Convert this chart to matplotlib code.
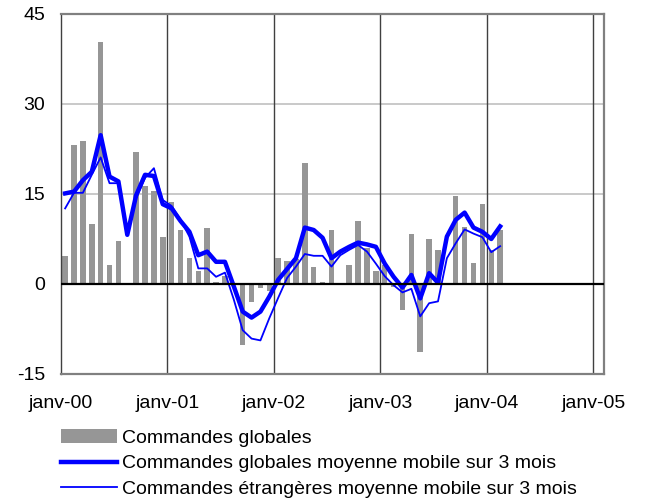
import numpy as np
import matplotlib
matplotlib.use("Agg")
import matplotlib.pyplot as plt
from matplotlib.patches import Patch
from matplotlib.lines import Line2D

plt.rcParams['font.family'] = ['Liberation Sans', 'DejaVu Sans']

# Monthly data, Jan 2000 .. Feb 2004 (August bars not shown)
months = np.arange(50)
commandes_globales = [4.7, 23.2, 23.8, 10.0, 40.3, 3.2, 7.2, np.nan, 22.0, 16.3, 15.5, 7.8,
                      13.7, 9.0, 4.3, 2.2, 9.3, 0.3, 1.3, np.nan, -10.2, -3.0, -0.7, -1.2,
                      4.3, 3.8, 4.2, 20.2, 2.8, 0.3, 9.0, np.nan, 3.2, 10.5, 6.0, 2.2,
                      3.2, -0.5, -4.3, 8.3, -11.3, 7.5, 5.7, np.nan, 14.6, 9.5, 3.5, 13.3,
                      5.7, 9.0]
globales_mm3 = [15.1, 15.4, 17.3, 18.7, 24.8, 17.9, 17.1, 8.2, 14.8, 18.2, 18.0, 13.3,
                12.6, 10.5, 8.7, 4.8, 5.4, 3.7, 3.7, -0.4, -4.6, -5.6, -4.6, -2.1,
                0.7, 2.5, 4.3, 9.4, 9.0, 7.7, 4.3, 5.4, 6.2, 6.9, 6.6, 6.2,
                3.4, 1.2, -0.6, 1.5, -2.4, 1.8, 0.2, 7.9, 10.7, 11.9, 9.4, 8.7,
                7.5, 9.6]
etrangeres_mm3 = [12.6, 15.2, 15.2, 18.2, 21.1, 16.8, 16.8, 8.5, 14.3, 17.7, 19.3, 14.0,
                  13.0, 10.7, 7.9, 2.6, 2.6, 1.2, 1.9, -2.6, -7.7, -9.1, -9.4, -5.7,
                  -2.3, 1.0, 2.9, 5.0, 4.7, 4.7, 2.9, 4.8, 5.7, 6.5, 5.4, 3.4,
                  1.3, -0.2, -1.4, -0.8, -5.4, -3.2, -2.9, 4.3, 6.8, 9.1, 8.4, 7.8,
                  5.3, 6.3]
tick_labels = ['janv-00', 'janv-01', 'janv-02', 'janv-03', 'janv-04', 'janv-05']
yticks = [-15, 0, 15, 30, 45]

FS = 14

fig = plt.figure(figsize=(6.49, 5.03), dpi=100)
ax = fig.add_axes([60.7/649, 1-374/503, (604-60.7)/649, (374-14)/503])

x = months + 0.5
ax.bar(x, commandes_globales, width=0.62, color='#969696', zorder=2)
ax.plot(x, globales_mm3, color='#0000FF', lw=3.2, zorder=4)
ax.plot(x, etrangeres_mm3, color='#0000FF', lw=1.3, zorder=3)

ax.set_xlim(0, 61.2)
ax.set_ylim(-15, 45)
ax.set_yticks(yticks)
ax.set_yticklabels([str(v) for v in yticks], fontsize=FS)
ax.set_xticks([12*k for k in range(6)])
ax.set_xticklabels(tick_labels, fontsize=FS)
ax.tick_params(axis='y', length=0, pad=11)
ax.tick_params(axis='x', length=0, pad=15)

for v in [15, 30]:
    ax.axhline(v, color='#C0C0C0', lw=1.2, zorder=1)
for k in range(1, 6):
    ax.axvline(12*k, color='#404040', lw=1.0, zorder=1)
ax.axhline(0, color='black', lw=1.6, zorder=5)

for side in ['top', 'right', 'bottom']:
    ax.spines[side].set_color('#808080')
    ax.spines[side].set_linewidth(1.6)
ax.spines['left'].set_color('#404040')
ax.spines['left'].set_linewidth(1.0)

handles = [Patch(facecolor='#969696', edgecolor='none'),
           Line2D([], [], color='#0000FF', lw=3.2),
           Line2D([], [], color='#0000FF', lw=1.3)]
labels = ['Commandes globales',
          'Commandes globales moyenne mobile sur 3 mois',
          'Commandes étrangères moyenne mobile sur 3 mois']
fig.legend(handles, labels, loc='upper left', bbox_to_anchor=(61/649, 1-429/503),
           frameon=False, fontsize=FS, handlelength=2.9, handletextpad=0.22,
           labelspacing=0.42, borderpad=0, borderaxespad=0, handleheight=0.7)

fig.savefig('out.png', dpi=100)
